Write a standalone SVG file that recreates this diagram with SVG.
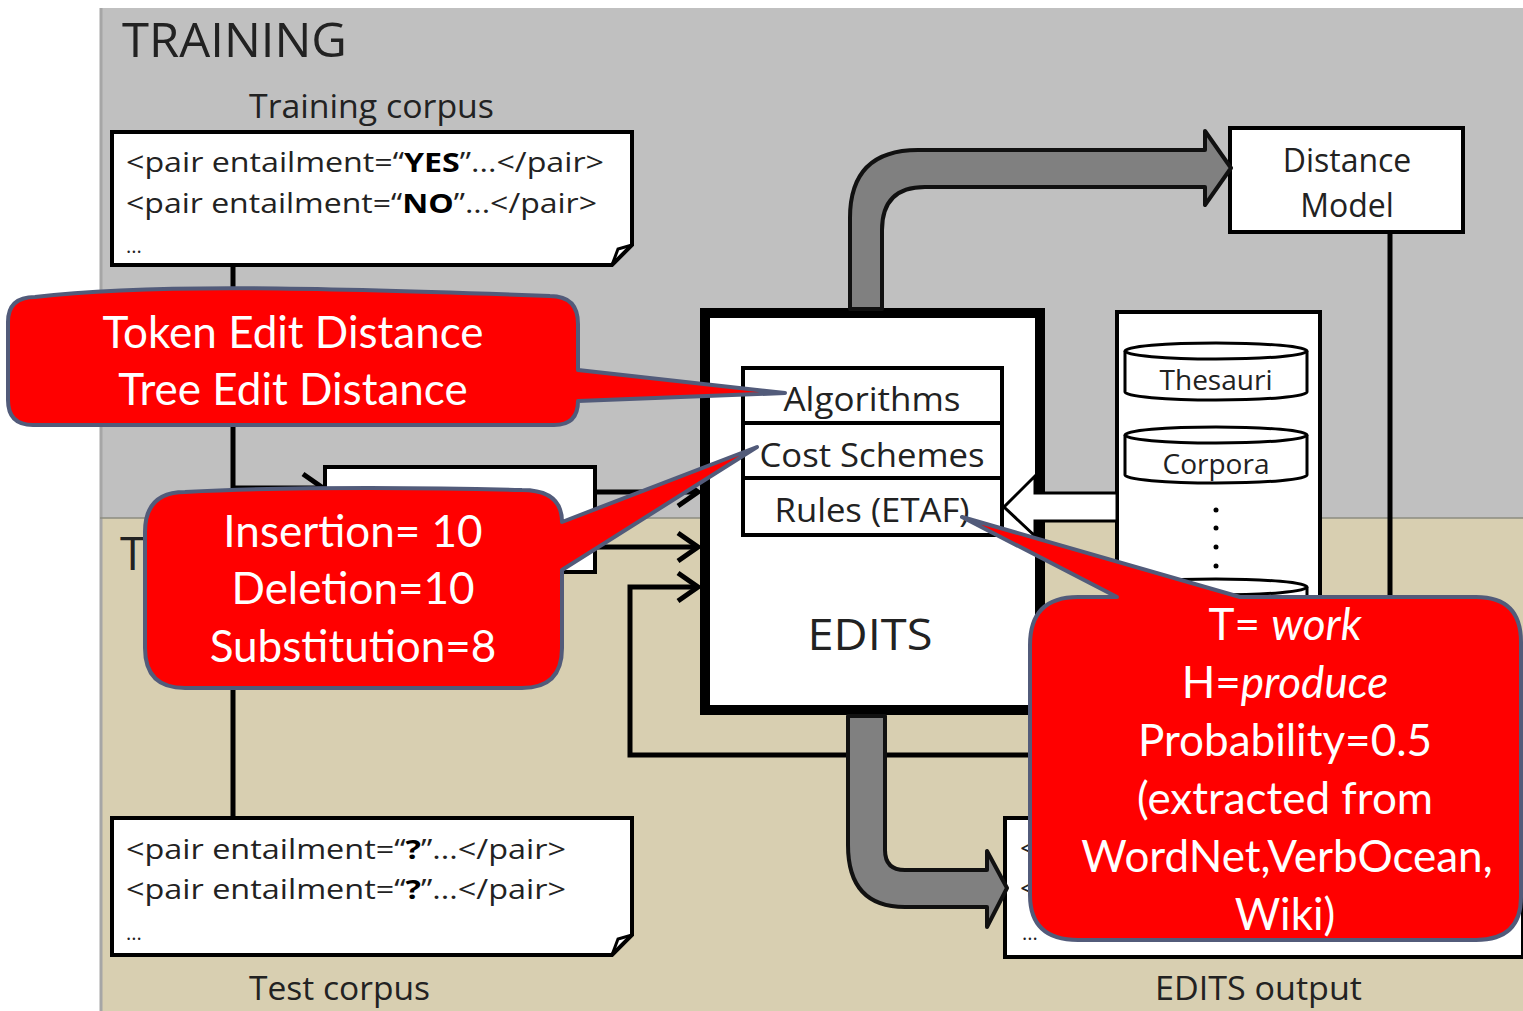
<svg xmlns="http://www.w3.org/2000/svg" width="1523" height="1011" viewBox="0 0 1523 1011">
<defs>
<style>
.bx{fill:#fff;stroke:#000;stroke-width:4}
.t{font-family:"Open Sans","Liberation Sans",sans-serif;fill:#222}
.c{font-family:Lato,"Open Sans",sans-serif;fill:#fff;font-size:44px;text-anchor:middle}
.ln{fill:none;stroke:#000;stroke-width:5}
.co{fill:#ff0000;stroke:#525b7a;stroke-width:4;stroke-linejoin:round}
.ga{fill:#808080;stroke:#111;stroke-width:4;stroke-linejoin:round}
</style>
<marker id="chev" viewBox="0 0 26 34" refX="23" refY="17" markerWidth="26" markerHeight="34" markerUnits="userSpaceOnUse" orient="auto">
<path d="M3,3 L23,17 L3,31" fill="none" stroke="#000" stroke-width="5"/>
</marker>
</defs>
<rect x="0" y="0" width="1523" height="1011" fill="#fff"/>
<rect x="100" y="8" width="1423" height="510" fill="#c0c0c0"/>
<rect x="100" y="518" width="1423" height="493" fill="#d8cfb1"/>
<line x1="101" y1="8" x2="101" y2="1011" stroke="#a6a6a6" stroke-width="3"/>
<line x1="100" y1="518" x2="1523" y2="518" stroke="#8c8c80" stroke-width="1.5"/>
<text class="t" x="122" y="57" font-size="48" textLength="225" lengthAdjust="spacingAndGlyphs">TRAINING</text>
<text class="t" x="120" y="570" font-size="46">T</text>

<g id="training-corpus">
<text class="t" x="249" y="118" font-size="32" textLength="245" lengthAdjust="spacingAndGlyphs">Training corpus</text>
<path class="bx" d="M112,132 H632 V245 L612,265 H112 Z"/>
<path d="M632,245 L618,249 L612,265" fill="none" stroke="#000" stroke-width="3"/>
<text class="t" x="126" y="172" font-size="27" textLength="478" lengthAdjust="spacingAndGlyphs">&lt;pair entailment=“<tspan font-weight="bold" fill="#000">YES</tspan>”...&lt;/pair&gt;</text>
<text class="t" x="126" y="213" font-size="27" textLength="471" lengthAdjust="spacingAndGlyphs">&lt;pair entailment=“<tspan font-weight="bold" fill="#000">NO</tspan>”...&lt;/pair&gt;</text>
<text class="t" x="126" y="253" font-size="20">...</text>
</g>

<g id="test-corpus">
<path class="bx" d="M112,818 H632 V935 L612,955 H112 Z"/>
<path d="M632,935 L618,939 L612,955" fill="none" stroke="#000" stroke-width="3"/>
<text class="t" x="126" y="859" font-size="27" textLength="440" lengthAdjust="spacingAndGlyphs">&lt;pair entailment=“<tspan font-weight="bold" fill="#000">?</tspan>”...&lt;/pair&gt;</text>
<text class="t" x="126" y="899" font-size="27" textLength="440" lengthAdjust="spacingAndGlyphs">&lt;pair entailment=“<tspan font-weight="bold" fill="#000">?</tspan>”...&lt;/pair&gt;</text>
<text class="t" x="126" y="940" font-size="20">...</text>
<text class="t" x="249" y="1000" font-size="32" textLength="181" lengthAdjust="spacingAndGlyphs">Test corpus</text>
</g>

<g id="preprocessing">
<rect class="bx" x="325" y="467" width="270" height="105"/>
</g>

<g id="distance-model">
<rect class="bx" x="1230" y="128" width="233" height="104"/>
<text class="t" x="1347" y="172" font-size="32" text-anchor="middle">Distance</text>
<text class="t" x="1347" y="217" font-size="32" text-anchor="middle">Model</text>
</g>

<g id="edits-output">
<path class="bx" d="M1005,818 H1523 V957 H1005 Z"/>
<text class="t" x="1020" y="858" font-size="27">&lt;</text>
<text class="t" x="1020" y="898" font-size="27">&lt;</text>
<text class="t" x="1022" y="940" font-size="20">...</text>
<text class="t" x="1155" y="1000" font-size="32" textLength="207" lengthAdjust="spacingAndGlyphs">EDITS output</text>
</g>

<g id="resources">
<rect class="bx" x="1117" y="312" width="203" height="320" stroke-width="3"/>
<path d="M1125,351 V392 A91,8 0 0 0 1307,392 V351" fill="#fff" stroke="#000" stroke-width="3"/>
<ellipse cx="1216" cy="351" rx="91" ry="8" fill="#fff" stroke="#000" stroke-width="3"/>
<text class="t" x="1216" y="390" font-size="28" text-anchor="middle">Thesauri</text>
<path d="M1125,435 V475 A91,8 0 0 0 1307,475 V435" fill="#fff" stroke="#000" stroke-width="3"/>
<ellipse cx="1216" cy="435" rx="91" ry="8" fill="#fff" stroke="#000" stroke-width="3"/>
<text class="t" x="1216" y="474" font-size="28" text-anchor="middle">Corpora</text>
<g fill="#000"><circle cx="1216" cy="510" r="2.5"/><circle cx="1216" cy="528" r="2.5"/><circle cx="1216" cy="547" r="2.5"/><circle cx="1216" cy="566" r="2.5"/></g>
<path d="M1125,587 V625 A91,8 0 0 0 1307,625 V587" fill="#fff" stroke="#000" stroke-width="3"/>
<ellipse cx="1216" cy="587" rx="91" ry="8" fill="#fff" stroke="#000" stroke-width="3"/>
</g>

<g id="edits">
<rect x="705" y="313" width="335" height="397" fill="#fff" stroke="#000" stroke-width="10"/>
<rect x="743" y="368" width="259" height="167" fill="#fff" stroke="#000" stroke-width="4"/>
<line x1="743" y1="423" x2="1002" y2="423" stroke="#000" stroke-width="4"/>
<line x1="743" y1="478" x2="1002" y2="478" stroke="#000" stroke-width="4"/>
<text class="t" x="872" y="411" font-size="32" text-anchor="middle" textLength="177" lengthAdjust="spacingAndGlyphs">Algorithms</text>
<text class="t" x="872" y="467" font-size="32" text-anchor="middle" textLength="225" lengthAdjust="spacingAndGlyphs">Cost Schemes</text>
<text class="t" x="872" y="522" font-size="32" text-anchor="middle" textLength="195" lengthAdjust="spacingAndGlyphs">Rules (ETAF)</text>
<text class="t" x="870" y="650" font-size="44" text-anchor="middle" textLength="125" lengthAdjust="spacingAndGlyphs">EDITS</text>
</g>

<g id="connectors">
<path class="ln" d="M233,265 V818"/>
<path class="ln" d="M233,488 H323" marker-end="url(#chev)"/>
<path class="ln" d="M595,492 H698" marker-end="url(#chev)"/>
<path class="ln" d="M595,547 H698" marker-end="url(#chev)"/>
<path class="ln" d="M1390,232 V755 H630 V587 H698" marker-end="url(#chev)"/>
<path class="ga" d="M850,309 V218 Q850,150 918,150 H1205 V131 L1231,168 L1205,205 V187 H925 Q882,187 882,230 V309 Z"/>
<path class="ga" d="M848,716 V845 Q848,907 905,907 H987 V927 L1007,888 L987,851 V870 H905 Q885,870 885,850 V716 Z"/>
<path d="M1117,493 H1035 V476 L1004,507 L1035,536 V521 H1117 Z" fill="#fff" stroke="#000" stroke-width="3" stroke-linejoin="miter"/>
</g>

<g id="callout-algorithms">
<path class="co" d="M35,297 C150,283 330,288 550,296 Q578,296 578,324 V370 L785,393 L578,401 Q578,425 554,425 H33 Q8,425 8,400 V322 Q8,297 35,297 Z"/>
<text class="c" x="293" y="348">Token Edit Distance</text>
<text class="c" x="293" y="405">Tree Edit Distance</text>
</g>

<g id="callout-costs">
<path class="co" d="M185,492 C300,486 450,488 522,490 Q562,490 562,522 L757,447 L562,570 V648 Q562,688 522,688 H185 Q145,688 145,648 V532 Q145,492 185,492 Z"/>
<text class="c" x="353" y="547">Insertion= 10</text>
<text class="c" x="353" y="604">Deletion=10</text>
<text class="c" x="353" y="662">Substitution=8</text>
</g>

<g id="callout-rules">
<path class="co" d="M1078,597 H1117 L962,517 L1240,597 H1476 Q1521,597 1521,642 V897 Q1521,940 1476,940 H1078 Q1030,940 1030,895 V645 Q1030,597 1078,597 Z"/>
<text class="c" x="1285" y="640">T= <tspan font-style="italic">work</tspan></text>
<text class="c" x="1285" y="698">H=<tspan font-style="italic">produce</tspan></text>
<text class="c" x="1285" y="756">Probability=0.5</text>
<text class="c" x="1285" y="814">(extracted from</text>
<text class="c" x="1287" y="872">WordNet,VerbOcean,</text>
<text class="c" x="1285" y="930">Wiki)</text>
</g>
</svg>
